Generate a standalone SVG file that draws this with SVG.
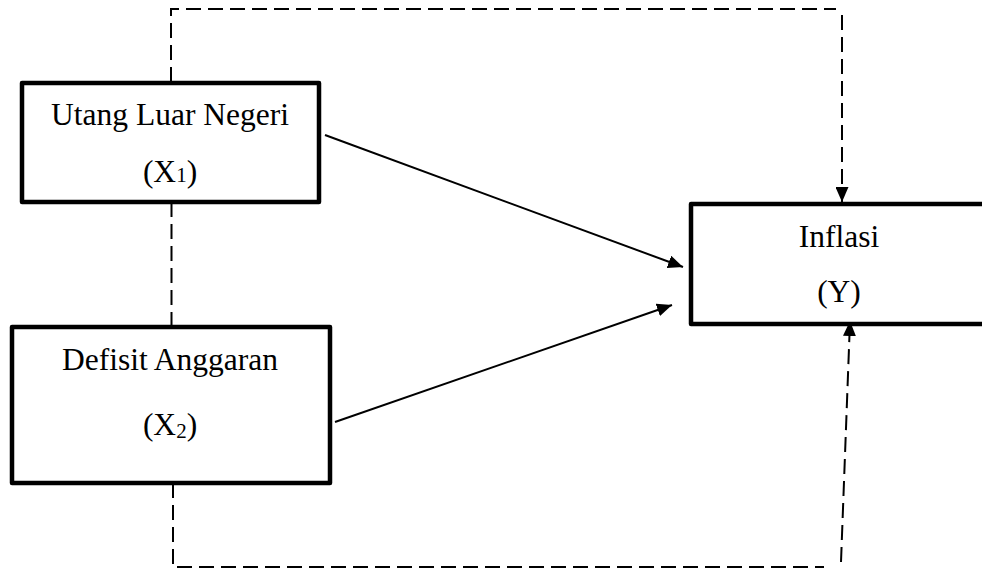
<svg xmlns="http://www.w3.org/2000/svg" width="982" height="568" viewBox="0 0 982 568">
<defs>
<style>
.box{fill:#fff;stroke:#000;stroke-width:4.5;stroke-linejoin:round}
.lbl{font-family:"Liberation Serif","Times New Roman",serif;font-size:31.5px;fill:#000;text-anchor:middle}
.sub{font-size:21px}
.dash{fill:none;stroke:#000;stroke-width:2;stroke-dasharray:15 7}
.solid{fill:none;stroke:#000;stroke-width:2}
</style>
<marker id="ah" viewBox="0 0 15 13" refX="15" refY="6.5" markerWidth="15" markerHeight="13" markerUnits="userSpaceOnUse" orient="auto">
<path d="M0,0 L15,6.5 L0,13 z" fill="#000"/>
</marker>
</defs>
<g id="connectors">
<polyline class="dash" points="171,82 171,9 836,9"/>
<line class="dash" x1="842" y1="15" x2="842" y2="202" marker-end="url(#ah)"/>
<line class="dash" x1="171.5" y1="202" x2="171.5" y2="327"/>
<polyline class="dash" points="173,483 173,567 824,567"/>
<line class="dash" x1="841" y1="562" x2="850" y2="321" marker-end="url(#ah)"/>
<line class="solid" x1="325" y1="135" x2="683" y2="267" marker-end="url(#ah)"/>
<line class="solid" x1="335" y1="422" x2="672" y2="305" marker-end="url(#ah)"/>
</g>
<g id="node-x1">
<rect class="box" x="22" y="83" width="297" height="119"/>
<text class="lbl" x="170" y="125">Utang Luar Negeri</text>
<text class="lbl" x="170" y="182">(X<tspan class="sub">1</tspan>)</text>
</g>
<g id="node-x2">
<rect class="box" x="12" y="327" width="318" height="156"/>
<text class="lbl" x="170" y="370">Defisit Anggaran</text>
<text class="lbl" x="170" y="435">(X<tspan class="sub" dy="3">2</tspan><tspan dy="-3">)</tspan></text>
</g>
<g id="node-y">
<rect class="box" x="691" y="204" width="320" height="120"/>
<text class="lbl" x="839" y="247">Inflasi</text>
<text class="lbl" x="839" y="302">(Y)</text>
</g>
</svg>
